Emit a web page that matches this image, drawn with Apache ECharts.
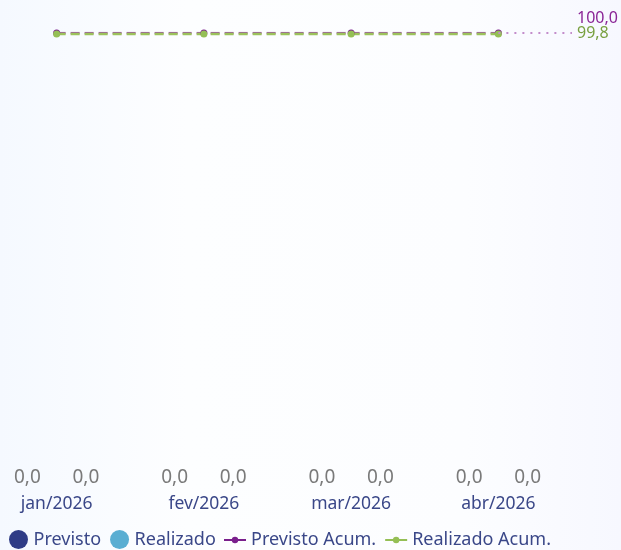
<!DOCTYPE html>
<html>
<head>
<meta charset="utf-8">
<script src="https://cdn.jsdelivr.net/npm/echarts@6/dist/echarts.min.js"></script>
<style>
  html, body { margin: 0; padding: 0; }
  #chart { width: 621px; height: 550px; }
</style>
</head>
<body>
<div id="chart"></div>
<script>
// dados do gráfico
var meses = ["jan/2026", "fev/2026", "mar/2026", "abr/2026"];
var previsto = [0, 0, 0, 0];
var realizado = [0, 0, 0, 0];
var previstoAcum = [100, 100, 100, 100];
var realizadoAcum = [99.8, 99.8, 99.8, 99.8];

function fmt(v) {
  return Number(v).toFixed(1).replace(".", ",");
}

var chart = echarts.init(document.getElementById("chart"));

var fonte = "'Noto Sans', 'Open Sans', sans-serif";
var ultimo = meses.length - 1;
var corTexto = "#3a4788";

var option = {
  backgroundColor: new echarts.graphic.LinearGradient(0, 0, 1, 0, [
    { offset: 0, color: "#f5f9ff" },
    { offset: 0.3, color: "#fdfeff" },
    { offset: 0.75, color: "#fcfdff" },
    { offset: 1, color: "#f7f8ff" }
  ]),
  textStyle: { fontFamily: fonte },
  grid: {
    left: -17, right: 49, top: 33, bottom: 58,
    containLabel: false,
    outerBoundsMode: "none"
  },
  legend: [
    {
      left: 4,
      top: 525,
      itemGap: 9,
      itemWidth: 20,
      itemHeight: 19,
      textStyle: { fontSize: 18, color: corTexto, fontFamily: fonte },
      data: [
        { name: "Previsto", icon: "circle", itemStyle: { color: "#2f3c86" } },
        { name: "Realizado", icon: "circle", itemStyle: { color: "#5aaed2" } }
      ]
    },
    {
      left: 218,
      top: 526,
      itemGap: 8,
      itemWidth: 22,
      itemHeight: 8,
      textStyle: { fontSize: 18, color: corTexto, fontFamily: fonte },
      data: [
        { name: "Previsto Acum.", lineStyle: { type: "solid", color: "#7a1f8c" } },
        { name: "Realizado Acum.", lineStyle: { type: "solid", color: "#95bf55" } }
      ]
    }
  ],
  xAxis: [
    {
      type: "category",
      data: meses,
      axisLine: { show: false },
      axisTick: { show: false },
      axisLabel: { color: corTexto, fontSize: 17.5, margin: 3 }
    },
    {
      type: "value",
      min: -0.5,
      max: ultimo + 0.5,
      show: false
    }
  ],
  yAxis: {
    type: "value",
    min: 0,
    max: 100,
    show: false
  },
  series: [
    {
      name: "Previsto",
      type: "bar",
      data: previsto,
      barWidth: 45,
      barGap: "30%",
      itemStyle: { color: "#2f3c86" },
      label: {
        show: true,
        position: "top",
        color: "#7a7a7a",
        fontSize: 19,
        formatter: function (p) { return fmt(p.value); }
      }
    },
    {
      name: "Realizado",
      type: "bar",
      data: realizado,
      barWidth: 45,
      barGap: "30%",
      itemStyle: { color: "#5aaed2" },
      label: {
        show: true,
        position: "top",
        color: "#7a7a7a",
        fontSize: 19,
        formatter: function (p) { return fmt(p.value); }
      }
    },
    {
      name: "Previsto Acum.",
      type: "line",
      xAxisIndex: 1,
      data: previstoAcum.map(function (v, i) { return [i, v]; }),
      symbol: "circle",
      symbolSize: 7,
      itemStyle: { color: "#7a1f8c" },
      lineStyle: { color: "#9c5a9f", width: 2.5, type: [9, 5] },
      markLine: {
        silent: true,
        symbol: "none",
        lineStyle: { color: "#c38ccb", width: 2, type: [2, 6] },
        label: {
          position: "end",
          distance: 5,
          offset: [0, -15],
          color: "#8a2596",
          fontSize: 16,
          formatter: fmt(previstoAcum[ultimo])
        },
        data: [[
          { coord: [ultimo, previstoAcum[ultimo]] },
          { coord: [ultimo + 0.5, previstoAcum[ultimo]] }
        ]]
      }
    },
    {
      name: "Realizado Acum.",
      type: "line",
      xAxisIndex: 1,
      data: realizadoAcum.map(function (v, i) { return [i, v]; }),
      symbol: "circle",
      symbolSize: 7,
      itemStyle: { color: "#95bf55" },
      lineStyle: { color: "#9cc25c", width: 2.5, type: [9, 5] },
      markLine: {
        silent: true,
        symbol: "none",
        lineStyle: { color: "rgba(0,0,0,0)", width: 0 },
        label: {
          position: "end",
          distance: 5,
          color: "#78a040",
          fontSize: 16,
          formatter: fmt(realizadoAcum[ultimo])
        },
        data: [[
          { coord: [ultimo, realizadoAcum[ultimo]] },
          { coord: [ultimo + 0.5, realizadoAcum[ultimo]] }
        ]]
      }
    }
  ]
};

chart.setOption(option);
</script>
</body>
</html>
